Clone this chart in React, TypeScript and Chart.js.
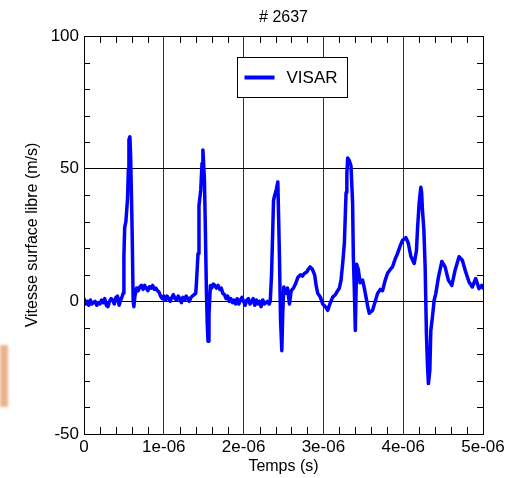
import React, { useEffect, useRef } from "react";
import { Chart, registerables } from "chart.js";

Chart.register(...registerables);

const CHART_TITLE = "# 2637";
const SERIES_LABEL = "VISAR";
const X_TITLE = "Temps (s)";
const Y_TITLE = "Vitesse surface libre (m/s)";
const X_TICKS = [0, 1e-6, 2e-6, 3e-6, 4e-6, 5e-6];
const X_TICK_LABELS = ["0", "1e-06", "2e-06", "3e-06", "4e-06", "5e-06"];
const X_MINOR = [0.2e-6, 0.4e-6, 0.6e-6, 0.8e-6, 1.2e-6, 1.4e-6, 1.6e-6, 1.8e-6, 2.2e-6, 2.4e-6, 2.6e-6, 2.8e-6, 3.2e-6, 3.4e-6, 3.6e-6, 3.8e-6, 4.2e-6, 4.4e-6, 4.6e-6, 4.8e-6];
const Y_TICKS = [-50, 0, 50, 100];
const Y_MINOR = [-40, -30, -20, -10, 10, 20, 30, 40, 60, 70, 80, 90];

// time in microseconds
const TIME_US = [
  0.00, 0.02, 0.04, 0.06, 0.08, 0.10, 0.12, 0.14, 0.16, 0.18, 0.20, 0.22, 0.24, 0.26, 0.28, 0.30, 0.32, 0.34, 0.36, 0.38, 0.40, 0.42, 0.44, 0.46, 0.48,
  0.49, 0.50, 0.51, 0.525, 0.546, 0.556, 0.563, 0.575, 0.584, 0.596, 0.604, 0.616, 0.625, 0.638,
  0.66, 0.68, 0.70, 0.72, 0.74, 0.76, 0.78, 0.80, 0.82, 0.84, 0.86, 0.88, 0.90, 0.92, 0.94, 0.96, 0.98,
  1.00, 1.02, 1.04, 1.06, 1.08, 1.10, 1.12, 1.14, 1.16, 1.18, 1.20, 1.22, 1.24, 1.26, 1.28, 1.30, 1.32, 1.34, 1.36, 1.38, 1.40,
  1.409, 1.429, 1.441, 1.463, 1.479, 1.49, 1.509, 1.521, 1.534, 1.544, 1.554, 1.566, 1.584,
  1.60, 1.62, 1.64, 1.66, 1.68, 1.70, 1.72, 1.74, 1.76, 1.78, 1.80, 1.82, 1.84, 1.86, 1.88, 1.90,
  1.92, 1.94, 1.96, 1.98, 2.00, 2.02, 2.04, 2.06, 2.08, 2.10, 2.12, 2.14, 2.16, 2.18, 2.20, 2.22, 2.24, 2.26, 2.28, 2.30, 2.32,
  2.334, 2.35, 2.359, 2.375, 2.39, 2.409, 2.429, 2.44, 2.45, 2.463, 2.479, 2.49, 2.504, 2.525, 2.55, 2.575, 2.596,
  2.625, 2.65, 2.679, 2.713, 2.738, 2.76, 2.79, 2.81, 2.834, 2.863, 2.89, 2.909, 2.929, 2.963, 2.991,
  3.025, 3.054, 3.081, 3.116, 3.15, 3.179, 3.20, 3.221, 3.244, 3.263, 3.275, 3.284, 3.294, 3.304, 3.325, 3.346,
  3.366, 3.375, 3.388, 3.40, 3.416, 3.438, 3.459, 3.491, 3.513, 3.534, 3.556, 3.575, 3.616, 3.65, 3.679,
  3.713, 3.741, 3.775, 3.804, 3.838, 3.866, 3.90, 3.929, 3.963, 3.991, 4.034, 4.063, 4.096, 4.138,
  4.166, 4.179, 4.20, 4.221, 4.231, 4.241, 4.259, 4.275, 4.291, 4.304, 4.316, 4.334, 4.346, 4.366, 4.388,
  4.409, 4.441, 4.484, 4.525, 4.566, 4.609, 4.65, 4.70, 4.741, 4.784, 4.825, 4.866, 4.909, 4.95, 4.984, 5.00,
];

const VELOCITY = [
  1, -1, 0, -1.5, 0.5, -1, -0.5, 0, -1.5, -0.5, -1, 0.5, -0.5, 1, -1.5, -2, 0, 1, 0.5, -1, 1.5, 2, -1.5, 0.5, 2,
  3, 17, 28, 30, 39, 50, 61, 62, 55, 38, 25, 0, -2, 2,
  5, 4, 5.5, 6, 4.5, 6, 5, 4, 5.5, 5, 6, 4.5, 5, 4, 3.5, 2, 1,
  2, 0.5, 2, 1, 0, 1.5, 2.5, 1, 0.5, 2, 1, -0.5, 1.5, 0.5, 2, 1, 0, 1.5, 2, 2.5, 3,
  7, 18, 36, 42, 52, 57, 46, 27, 4, -8, -15, -5, 6,
  5, 6.5, 6, 5, 6, 4.5, 5, 3, 2.5, 1, 2, 0, 1, -0.5, 0.5, -1,
  1, -1, 0.5, 1.5, 0, -1.5, 0.5, 1, -1, 0, 1, -1.5, 0.5, -1, 0, -2, 0.5, -1, -0.5, 0, -1,
  0, 10, 20, 38, 40, 42, 45, 30, 15.5, -7, -18.6, -5, 5.4, 3, 5, -1, 4,
  5, 6.5, 9, 10, 9.5, 10.5, 11, 12, 13, 12, 10, 6, 3, 1.5, -1,
  -2, -3.4, -1, 1.6, 2.5, 4, 5, 8, 15, 22, 33, 41, 48, 54, 53, 51,
  37, 17, 4, -11, 14, 12, 7, 8, 5, 1.6, -2, -4.5, -3.4, 0, 3,
  4.5, 4, 8, 10.6, 12, 13, 16, 18, 21, 23, 24, 22, 17, 14.3,
  19, 27, 37, 43, 41, 34.5, 27, 13, -12, -24, -31, -26, -11, -6, 0.4,
  3, 9, 15, 13, 8, 6, 11.7, 16.8, 15.5, 11, 7.3, 5.4, 8.6, 4.8, 6, 5,
];

const FONT = "'Liberation Sans', Arial, Helvetica, sans-serif";
const LINE_COLOR = "#0000ff";

const decorPlugin = {
  id: "decor",
  beforeDatasetsDraw(chart: any) {
    const { ctx, chartArea: a, scales } = chart;
    const x = scales.x;
    const y = scales.y;
    ctx.save();
    ctx.strokeStyle = "#000";
    ctx.lineWidth = 1;
    ctx.beginPath();
    const tl = 7;
    X_MINOR.forEach((v) => {
      const px = Math.round(x.getPixelForValue(v)) + 0.5;
      ctx.moveTo(px, a.bottom);
      ctx.lineTo(px, a.bottom - tl);
      ctx.moveTo(px, a.top);
      ctx.lineTo(px, a.top + tl);
    });
    Y_MINOR.forEach((v) => {
      const py = Math.round(y.getPixelForValue(v)) + 0.5;
      ctx.moveTo(a.left, py);
      ctx.lineTo(a.left + 6, py);
      ctx.moveTo(a.right, py);
      ctx.lineTo(a.right - 6, py);
    });
    ctx.stroke();
    ctx.restore();
  },
  afterDraw(chart: any) {
    const { ctx, chartArea: a } = chart;
    ctx.save();
    ctx.strokeStyle = "#000";
    ctx.lineWidth = 1;
    ctx.strokeRect(Math.round(a.left) + 0.5, Math.round(a.top) + 0.5, Math.round(a.right - a.left), Math.round(a.bottom - a.top));
    ctx.fillStyle = "#000";
    ctx.font = `16px ${FONT}`;
    ctx.textAlign = "center";
    ctx.textBaseline = "middle";
    ctx.fillText(CHART_TITLE, (a.left + a.right) / 2, 18);
    const bx = Math.round(a.left + 153) + 0.5;
    const by = Math.round(a.top + 21) + 0.5;
    const bw = 110;
    const bh = 40;
    ctx.fillStyle = "#fff";
    ctx.fillRect(bx, by, bw, bh);
    ctx.strokeStyle = "#000";
    ctx.strokeRect(bx, by, bw, bh);
    const ly = by + bh / 2;
    ctx.strokeStyle = LINE_COLOR;
    ctx.lineWidth = 4;
    ctx.beginPath();
    ctx.moveTo(bx + 7, ly);
    ctx.lineTo(bx + 37, ly);
    ctx.stroke();
    ctx.fillStyle = "#000";
    ctx.font = `17px ${FONT}`;
    ctx.textAlign = "left";
    ctx.fillText(chart.data.datasets[0].label, bx + 49, ly + 1);
    ctx.restore();
  },
};

export default function App() {
  const ref = useRef<HTMLCanvasElement | null>(null);
  useEffect(() => {
    if (!ref.current) return;
    const data = TIME_US.map((t, i) => ({ x: t * 1e-6, y: VELOCITY[i] }));
    const chart = new Chart(ref.current, {
      type: "line",
      data: {
        datasets: [
          {
            label: SERIES_LABEL,
            data,
            borderColor: LINE_COLOR,
            borderWidth: 3.5,
            borderJoinStyle: "round",
            borderCapStyle: "round",
            pointRadius: 0,
            tension: 0,
            fill: false,
          },
        ],
      },
      options: {
        animation: false,
        responsive: false,
        events: [],
        layout: { padding: { top: 36, right: 35, left: 0, bottom: 0 } },
        plugins: { legend: { display: false }, title: { display: false }, tooltip: { enabled: false } },
        scales: {
          x: {
            type: "linear",
            min: 0,
            max: 5e-6,
            afterBuildTicks: (s: any) => {
              s.ticks = X_TICKS.map((v) => ({ value: v }));
            },
            afterFit: (s: any) => {
              s.height = 44;
            },
            grid: { color: "#333", lineWidth: 1, drawTicks: false },
            border: { display: true, color: "#000" },
            ticks: {
              color: "#000",
              font: { family: FONT, size: 17 },
              padding: 3,
              maxRotation: 0,
              callback: (_v: any, i: number) => X_TICK_LABELS[i],
            },
            title: {
              display: true,
              text: X_TITLE,
              color: "#000",
              font: { family: FONT, size: 16 },
              padding: { top: 0, bottom: 2 },
            },
          },
          y: {
            type: "linear",
            min: -50,
            max: 100,
            afterBuildTicks: (s: any) => {
              s.ticks = Y_TICKS.map((v) => ({ value: v }));
            },
            afterFit: (s: any) => {
              s.width = 84;
            },
            grid: { color: "#000", lineWidth: 1, drawTicks: false },
            border: { display: true, color: "#000" },
            ticks: {
              color: "#000",
              font: { family: FONT, size: 17 },
              padding: 5,
            },
            title: {
              display: true,
              text: Y_TITLE,
              color: "#000",
              font: { family: FONT, size: 16 },
              padding: { top: 23, bottom: 0 },
            },
          },
        },
      },
      plugins: [decorPlugin],
    });
    return () => chart.destroy();
  }, []);

  return (
    <div style={{ position: "fixed", left: 0, top: 0, width: 518, height: 478, background: "#fff" }}>
      <canvas ref={ref} width={518} height={478} style={{ display: "block", width: 518, height: 478 }} />
      <div
        style={{
          position: "absolute",
          left: 0,
          top: 345,
          width: 8,
          height: 62,
          background: "#ebb48a",
          filter: "blur(1.5px)",
        }}
      />
    </div>
  );
}
